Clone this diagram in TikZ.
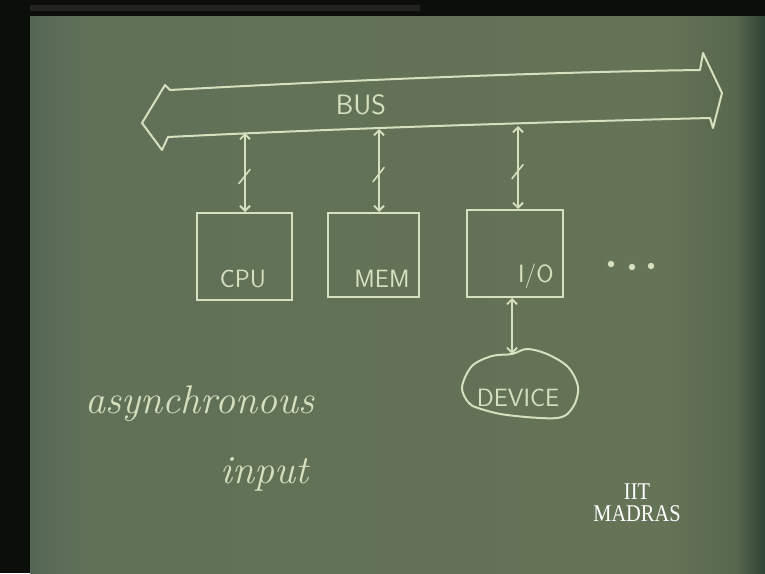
\documentclass[tikz,border=0pt]{standalone}
\usepackage{fontspec}
\newfontfamily\timesf{Liberation Serif}
\usetikzlibrary{arrows.meta,calc}
\definecolor{chalk}{RGB}{214,224,190}
\definecolor{bordercol}{RGB}{12,14,10}
\definecolor{bdL}{RGB}{86,102,86}
\definecolor{bdM}{RGB}{96,113,88}
\definecolor{bdMM}{RGB}{101,115,86}
\definecolor{bdR}{RGB}{88,104,78}
\definecolor{bdE}{RGB}{48,68,54}
\pgfdeclarehorizontalshading{board}{100bp}{color(0bp)=(bdL); color(25bp)=(bdL); color(29bp)=(bdM); color(68bp)=(bdMM); color(73bp)=(bdR); color(75bp)=(bdE); color(100bp)=(bdE)}
\begin{document}
\begin{tikzpicture}[x=1pt,y=-1pt,
  chalkline/.style={draw=chalk, line width=2pt, line join=round, line cap=round},
  conn/.style={draw=chalk, line width=1.8pt, line cap=round, {Straight Barb[length=5pt,width=10pt]}-{Straight Barb[length=5pt,width=10pt]}},
  box/.style={draw=chalk, line width=2pt, inner sep=0pt},
  chalktext/.style={text=chalk, font=\sffamily\fontsize{25}{25}\selectfont, inner sep=0pt},
  hand/.style={text=chalk, font=\itshape\fontsize{40}{40}\selectfont, inner sep=0pt}]
\useasboundingbox (0,0) rectangle (765,573);
\fill[bordercol] (0,0) rectangle (765,573);
\shade[shading=board] (30,16) rectangle (765,573);
\fill[black!60!gray, opacity=0.6] (30,5) rectangle (420,11);
% bus
\draw[chalkline] (170,90) .. controls (350,80) and (550,72) .. (700,70) -- (703,53) -- (722,93) -- (713,128) -- (710,118)
  .. controls (550,122) and (350,128) .. (168,137) -- (162,150) -- (142,123) -- (165,85) -- cycle;
\node[chalktext, font=\sffamily\fontsize{28}{28}\selectfont] (bus) at (361,105) {BUS};
\coordinate (b1) at (245,133);
\coordinate (b2) at (379,129);
\coordinate (b3) at (518,126);
% boxes
\node[box, minimum width=95pt, minimum height=87pt] (cpu) at (244.5,256.5) {};
\node[box, minimum width=91pt, minimum height=84pt] (mem) at (373.5,255) {};
\node[box, minimum width=96pt, minimum height=87pt] (io) at (515,253.5) {};
\node[chalktext] (cpul) at (243,279) {CPU};
\node[chalktext] (meml) at (382,279) {MEM};
\node[chalktext] (iol) at (536,276) {I/O};
% bus connections
\draw[conn] (b1) -- (b1 |- cpu.north);
\draw[conn] (b2) -- (b2 |- mem.north);
\draw[conn] (b3) -- (b3 |- io.north);
\foreach \c/\n in {b1/cpu, b2/mem, b3/io}{
  \draw[chalkline, line width=1.6pt] ($(\c)!0.55!(\c |- \n.north)+(-6,7)$) -- ++(11,-14);
}
% dots
\foreach \p in {(611,264),(632,267),(651,266)} \fill[chalk] \p circle (3.2);
% device
\coordinate (devtop) at (512,354);
\draw[chalkline] plot[smooth cycle, tension=0.55] coordinates {(512,354) (492,356) (472,366) (462,387) (468,402) (478,408) (507,415) (557,418) (573,407) (578,387) (568,367) (547,354) (527,349)};
\node[chalktext] (dev) at (518,398) {DEVICE};
\draw[conn] (io.south -| devtop) -- (devtop);
% handwriting
\node[hand] (async) at (200,404) {asynchronous};
\node[hand] (inp) at (264,474) {input};
% logo
\node[text=white, font=\timesf\fontsize{24}{22}\selectfont, align=center, xscale=0.85, inner sep=0pt] (logo) at (637,503) {IIT\\MADRAS};
\end{tikzpicture}
\end{document}
